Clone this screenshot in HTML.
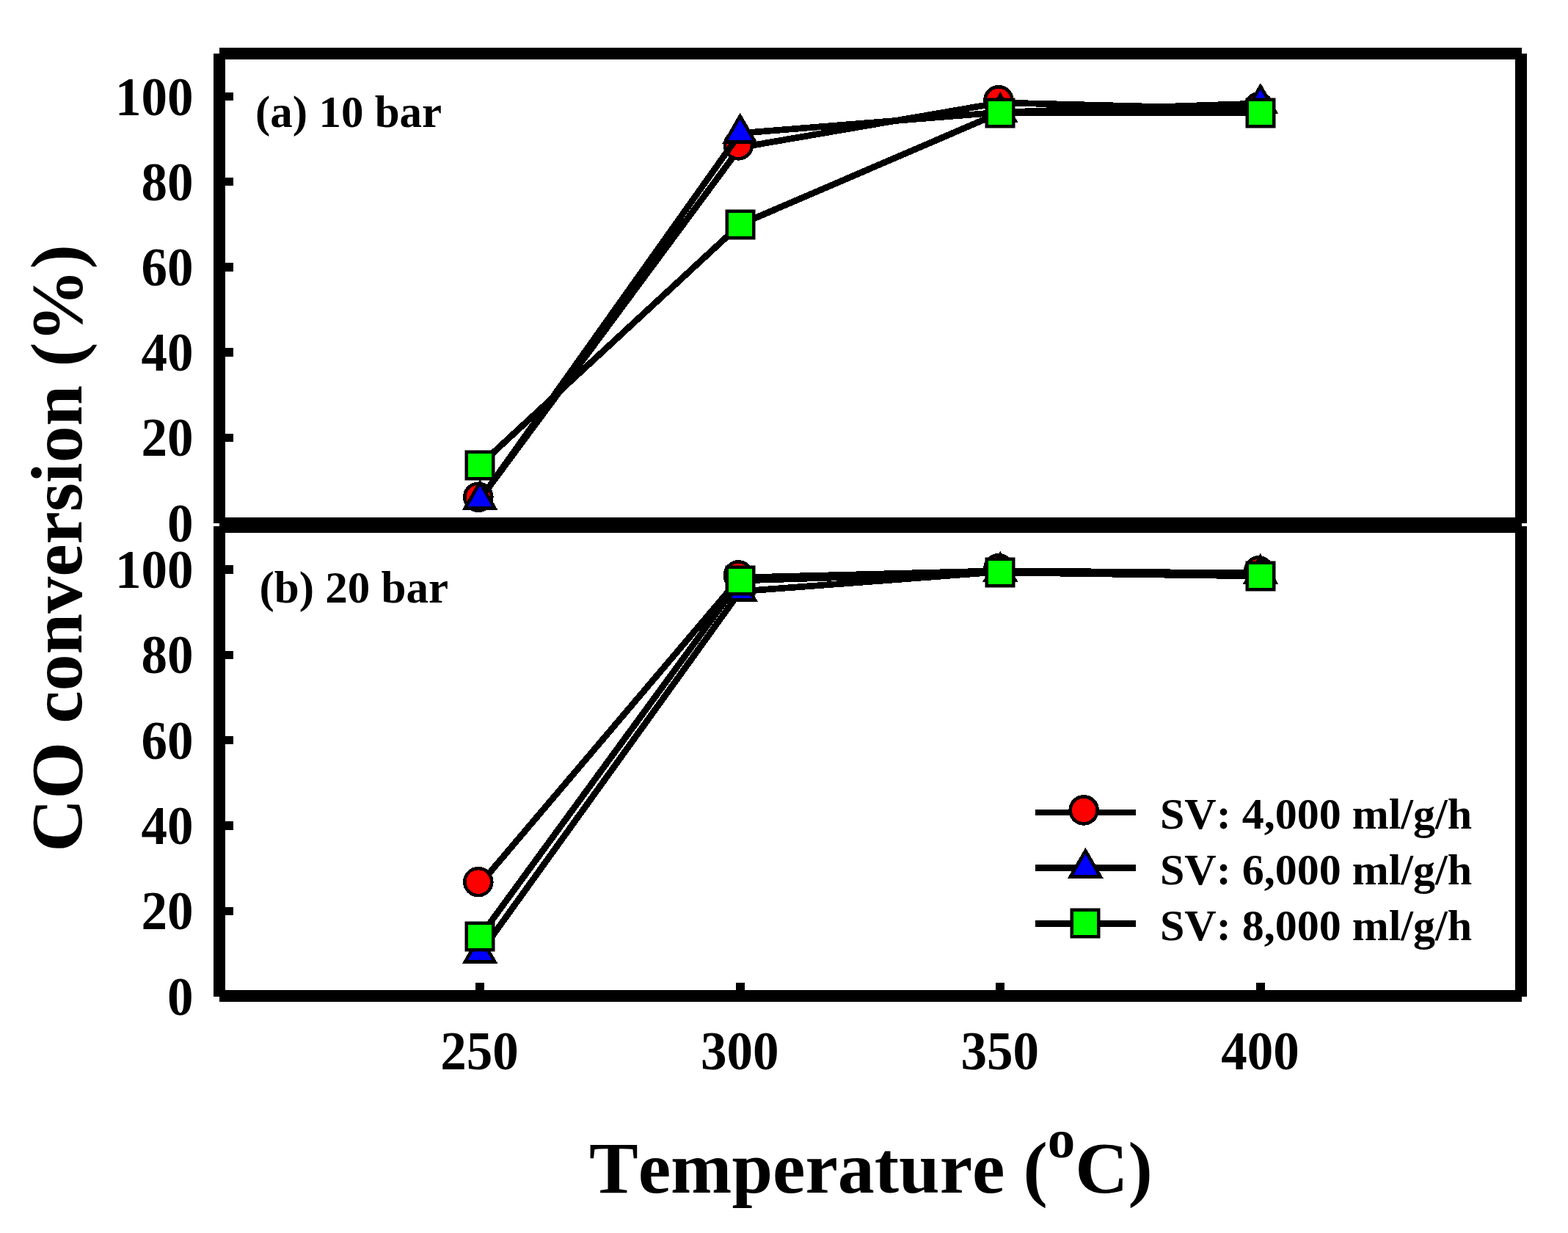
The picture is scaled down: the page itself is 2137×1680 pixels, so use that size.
<!DOCTYPE html>
<html lang="en">
<head>
<meta charset="utf-8">
<title>CO conversion vs Temperature</title>
<style>
html,body{margin:0;padding:0;background:#fff;}
body{width:2137px;height:1680px;overflow:hidden;}
svg{display:block;}
text{font-kerning:none;font-family:"Liberation Serif",serif;font-weight:bold;fill:#000;}
.tick{font-size:71px;}
.lab{font-size:61px;}
.leg{font-size:60px;}
.ttl{font-size:100px;}
</style>
</head>
<body>
<svg width="2137" height="1680" viewBox="0 0 2137 1680">
<rect x="0" y="0" width="2137" height="1680" fill="#fff"/>

<g fill="#000" shape-rendering="crispEdges">
<rect x="299" y="65" width="1774.6" height="16"/>
<rect x="299" y="705" width="1774.6" height="21"/>
<rect x="299" y="1349" width="1774.6" height="16"/>
<rect x="291" y="73" width="16" height="640.3"/>
<rect x="291" y="717.2" width="16" height="640.8"/>
<rect x="2065" y="73" width="16" height="640.3"/>
<rect x="2065" y="717.2" width="16" height="640.8"/>
<rect x="299.0" y="125.8" width="19" height="11.5"/>
<rect x="299.0" y="241.9" width="19" height="11.5"/>
<rect x="299.0" y="358.1" width="19" height="11.5"/>
<rect x="299.0" y="474.4" width="19" height="11.5"/>
<rect x="299.0" y="590.6" width="19" height="11.5"/>
<rect x="299.0" y="770.0" width="19" height="11.5"/>
<rect x="299.0" y="886.5" width="19" height="11.5"/>
<rect x="299.0" y="1002.9" width="19" height="11.5"/>
<rect x="299.0" y="1119.2" width="19" height="11.5"/>
<rect x="299.0" y="1235.7" width="19" height="11.5"/>
<rect x="648" y="1339" width="12" height="11"/>
<rect x="1003" y="1339" width="12" height="11"/>
<rect x="1357" y="1339" width="12" height="11"/>
<rect x="1712" y="1339" width="12" height="11"/>
</g>
<g shape-rendering="crispEdges">
<polyline points="654.1,680.4 1008.7,200.9 1363.3,139.9 1717.9,149.0" fill="none" stroke="#000" stroke-width="8.7" stroke-linejoin="round"/>
<circle cx="651.8" cy="677.3" r="18.50" fill="#ff0000" stroke="#000" stroke-width="4.6"/>
<circle cx="1006.4" cy="197.8" r="18.50" fill="#ff0000" stroke="#000" stroke-width="4.6"/>
<circle cx="1361.0" cy="136.8" r="18.50" fill="#ff0000" stroke="#000" stroke-width="4.6"/>
<circle cx="1715.6" cy="145.9" r="18.50" fill="#ff0000" stroke="#000" stroke-width="4.6"/>
<polyline points="654.1,680.8 1008.7,181.5 1363.3,153.0 1717.9,140.9" fill="none" stroke="#000" stroke-width="8.7" stroke-linejoin="round"/>
<polygon points="654.1,657.4 674.4,692.5 633.8,692.5" fill="#0000ff" stroke="#000" stroke-width="4.6" stroke-linejoin="miter"/>
<polygon points="1008.7,158.1 1029.0,193.2 988.4,193.2" fill="#0000ff" stroke="#000" stroke-width="4.6" stroke-linejoin="miter"/>
<polygon points="1363.3,129.6 1383.6,164.7 1343.0,164.7" fill="#0000ff" stroke="#000" stroke-width="4.6" stroke-linejoin="miter"/>
<polygon points="1717.9,117.5 1738.2,152.6 1697.6,152.6" fill="#0000ff" stroke="#000" stroke-width="4.6" stroke-linejoin="miter"/>
<polyline points="654.1,633.5 1008.7,305.9 1363.3,153.5 1717.9,153.6" fill="none" stroke="#000" stroke-width="8.7" stroke-linejoin="round"/>
<rect x="633.5" y="613.5" width="41" height="41" fill="#000" shape-rendering="auto"/><rect x="638" y="618" width="32" height="32" fill="#00ff00"/>
<rect x="988.5" y="285.5" width="41" height="41" fill="#000" shape-rendering="auto"/><rect x="993" y="290" width="32" height="32" fill="#00ff00"/>
<rect x="1342.5" y="133.5" width="41" height="41" fill="#000" shape-rendering="auto"/><rect x="1347" y="138" width="32" height="32" fill="#00ff00"/>
<rect x="1697.5" y="133.5" width="41" height="41" fill="#000" shape-rendering="auto"/><rect x="1702" y="138" width="32" height="32" fill="#00ff00"/>
<polyline points="654.1,1204.7 1008.7,787.0 1363.3,777.7 1717.9,781.0" fill="none" stroke="#000" stroke-width="8.7" stroke-linejoin="round"/>
<circle cx="651.8" cy="1201.6" r="18.50" fill="#ff0000" stroke="#000" stroke-width="4.6"/>
<circle cx="1006.4" cy="783.9" r="18.50" fill="#ff0000" stroke="#000" stroke-width="4.6"/>
<circle cx="1361.0" cy="774.6" r="18.50" fill="#ff0000" stroke="#000" stroke-width="4.6"/>
<circle cx="1715.6" cy="777.9" r="18.50" fill="#ff0000" stroke="#000" stroke-width="4.6"/>
<polyline points="654.1,1298.9 1008.7,805.8 1363.3,779.0 1717.9,781.8" fill="none" stroke="#000" stroke-width="8.7" stroke-linejoin="round"/>
<polygon points="654.1,1275.5 674.4,1310.6 633.8,1310.6" fill="#0000ff" stroke="#000" stroke-width="4.6" stroke-linejoin="miter"/>
<polygon points="1008.7,782.4 1029.0,817.5 988.4,817.5" fill="#0000ff" stroke="#000" stroke-width="4.6" stroke-linejoin="miter"/>
<polygon points="1363.3,755.6 1383.6,790.7 1343.0,790.7" fill="#0000ff" stroke="#000" stroke-width="4.6" stroke-linejoin="miter"/>
<polygon points="1717.9,758.4 1738.2,793.5 1697.6,793.5" fill="#0000ff" stroke="#000" stroke-width="4.6" stroke-linejoin="miter"/>
<polyline points="654.1,1276.3 1008.7,791.0 1363.3,780.0 1717.9,785.0" fill="none" stroke="#000" stroke-width="8.7" stroke-linejoin="round"/>
<rect x="633.5" y="1255.5" width="41" height="41" fill="#000" shape-rendering="auto"/><rect x="638" y="1260" width="32" height="32" fill="#00ff00"/>
<rect x="988.5" y="770.5" width="41" height="41" fill="#000" shape-rendering="auto"/><rect x="993" y="775" width="32" height="32" fill="#00ff00"/>
<rect x="1342.5" y="759.5" width="41" height="41" fill="#000" shape-rendering="auto"/><rect x="1347" y="764" width="32" height="32" fill="#00ff00"/>
<rect x="1697.5" y="764.5" width="41" height="41" fill="#000" shape-rendering="auto"/><rect x="1702" y="769" width="32" height="32" fill="#00ff00"/>
</g>
<line x1="1411.0" y1="1107.0" x2="1548.1" y2="1107.0" stroke="#000" stroke-width="8.7" shape-rendering="crispEdges"/>
<g shape-rendering="crispEdges"><circle cx="1477.1" cy="1103.9" r="18.50" fill="#ff0000" stroke="#000" stroke-width="4.6"/></g>
<line x1="1411.0" y1="1182.6" x2="1548.1" y2="1182.6" stroke="#000" stroke-width="8.7" shape-rendering="crispEdges"/>
<g shape-rendering="crispEdges"><polygon points="1479.4,1159.2 1499.7,1194.3 1459.1,1194.3" fill="#0000ff" stroke="#000" stroke-width="4.6" stroke-linejoin="miter"/></g>
<line x1="1411.0" y1="1258.5" x2="1548.1" y2="1258.5" stroke="#000" stroke-width="8.7" shape-rendering="crispEdges"/>
<g shape-rendering="crispEdges"><rect x="1458.5" y="1237.5" width="41" height="41" fill="#000" shape-rendering="auto"/><rect x="1463" y="1242" width="32" height="32" fill="#00ff00"/></g>
<g>
<text class="tick" transform="translate(263.5 156.5) scale(1 1.03)" text-anchor="end">100</text>
<text class="tick" transform="translate(263.5 272.7) scale(1 1.03)" text-anchor="end">80</text>
<text class="tick" transform="translate(263.5 388.9) scale(1 1.03)" text-anchor="end">60</text>
<text class="tick" transform="translate(263.5 505.1) scale(1 1.03)" text-anchor="end">40</text>
<text class="tick" transform="translate(263.5 621.4) scale(1 1.03)" text-anchor="end">20</text>
<text class="tick" transform="translate(263.5 737.9) scale(1 1.03)" text-anchor="end">0</text>
<text class="tick" transform="translate(263.5 800.8) scale(1 1.03)" text-anchor="end">100</text>
<text class="tick" transform="translate(263.5 917.2) scale(1 1.03)" text-anchor="end">80</text>
<text class="tick" transform="translate(263.5 1033.6) scale(1 1.03)" text-anchor="end">60</text>
<text class="tick" transform="translate(263.5 1150.0) scale(1 1.03)" text-anchor="end">40</text>
<text class="tick" transform="translate(263.5 1266.4) scale(1 1.03)" text-anchor="end">20</text>
<text class="tick" transform="translate(263.5 1382.8) scale(1 1.03)" text-anchor="end">0</text>
<text class="tick" transform="translate(653.6 1456.8) scale(1 1.03)" text-anchor="middle">250</text>
<text class="tick" transform="translate(1008.2 1456.8) scale(1 1.03)" text-anchor="middle">300</text>
<text class="tick" transform="translate(1362.8 1456.8) scale(1 1.03)" text-anchor="middle">350</text>
<text class="tick" transform="translate(1717.4 1456.8) scale(1 1.03)" text-anchor="middle">400</text>
<text class="lab" x="348" y="173.3">(a) 10 bar</text>
<text class="lab" x="353.5" y="820.9">(b) 20 bar</text>
<text class="leg" x="1581" y="1128.9">SV: 4,000 ml/g/h</text>
<text class="leg" x="1581" y="1204.8">SV: 6,000 ml/g/h</text>
<text class="leg" x="1581" y="1280.6">SV: 8,000 ml/g/h</text>
<text class="ttl" x="803" y="1624.7">Temperature (<tspan font-size="75" dy="-48">o</tspan><tspan dy="48">C)</tspan></text>
<text class="ttl" transform="translate(110.7 747) rotate(-90)" text-anchor="middle">CO conversion (%)</text>
</g>
</svg>
</body>
</html>
